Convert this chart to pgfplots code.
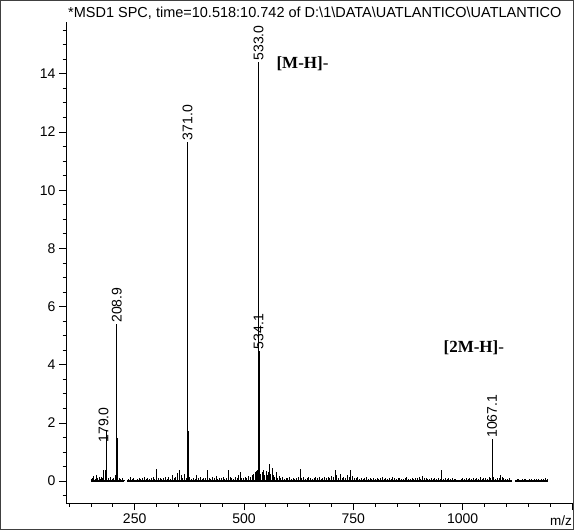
\documentclass[border=0pt]{standalone}
\usepackage{fontspec}
\setmainfont{Liberation Sans}
\newfontfamily\tnr{Liberation Serif}
\usepackage{pgfplots}
\pgfplotsset{compat=1.18}
\usepackage{pgfplotstable}

% m/z  abundance
\pgfplotstableread{
mz int
150 0.06
153 0.12
156 0.18
159 0.08
162 0.2
165 0.1
168 0.16
171 0.07
174 0.14
177 0.1
179 0.4
182 0.3
184 0.38
186 1.75
190 0.1
194 0.15
198 0.08
202 0.12
205 0.2
208.9 5.39
210.5 1.48
214 0.1
218 0.06
222 0.12
226 0.05
236 0.08
240 0.15
244 0.06
248 0.1
252 0.05
256 0.09
260 0.12
264 0.07
268 0.1
272 0.15
276 0.08
280 0.12
284 0.06
288 0.1
292 0.14
296 0.08
300 0.43
304 0.1
308 0.12
312 0.06
316 0.1
320 0.16
324 0.08
328 0.13
332 0.07
336 0.2
340 0.1
344 0.15
348 0.28
352 0.38
356 0.2
360 0.12
364 0.25
368 0.1
371 11.66
372.5 1.73
376 0.15
380 0.08
384 0.12
388 0.06
392 0.2
396 0.1
400 0.14
404 0.08
408 0.12
412 0.1
416 0.37
420 0.12
424 0.08
428 0.15
432 0.1
436 0.18
440 0.06
444 0.12
448 0.1
452 0.16
456 0.08
460 0.12
464 0.37
468 0.14
472 0.1
476 0.08
480 0.15
484 0.1
488 0.2
491 0.33
494 0.12
498 0.1
502 0.15
506 0.12
510 0.18
514 0.15
518 0.2
522 0.25
526 0.3
529 0.35
531 0.4
533 14.4
534.1 4.48
536 0.35
538 0.25
541 0.3
544 0.4
547 0.2
550 0.35
553 0.22
556 0.3
558 0.6
561 0.25
564 0.45
567 0.2
570 0.15
573 0.3
576 0.12
580 0.18
584 0.1
588 0.14
592 0.08
596 0.12
600 0.1
604 0.15
608 0.08
612 0.12
616 0.06
620 0.1
624 0.15
628 0.43
632 0.1
636 0.14
640 0.08
644 0.12
648 0.15
652 0.1
656 0.08
660 0.12
664 0.15
668 0.1
672 0.14
676 0.08
680 0.12
684 0.16
688 0.1
692 0.14
696 0.12
700 0.18
704 0.15
708 0.37
712 0.2
716 0.12
720 0.25
724 0.1
728 0.15
732 0.12
736 0.2
740 0.14
744 0.4
748 0.18
752 0.12
756 0.1
760 0.15
764 0.08
768 0.12
772 0.06
776 0.1
780 0.14
784 0.08
788 0.1
792 0.06
796 0.12
800 0.08
804 0.1
808 0.06
812 0.12
816 0.14
820 0.08
824 0.1
828 0.06
832 0.12
836 0.08
840 0.15
844 0.1
848 0.06
852 0.1
856 0.12
860 0.08
864 0.06
868 0.1
872 0.14
876 0.08
880 0.06
884 0.1
888 0.08
892 0.12
896 0.1
900 0.15
904 0.08
908 0.18
912 0.1
916 0.12
920 0.06
924 0.08
928 0.1
932 0.06
936 0.12
940 0.08
944 0.1
948 0.06
951 0.37
955 0.08
960 0.1
964 0.06
968 0.12
972 0.08
976 0.1
980 0.06
984 0.08
996 0.06
1000 0.1
1004 0.08
1008 0.12
1012 0.06
1016 0.1
1020 0.08
1024 0.12
1028 0.06
1032 0.1
1036 0.08
1040 0.14
1044 0.06
1048 0.1
1052 0.12
1056 0.08
1060 0.15
1064 0.1
1067.1 1.44
1068.2 0.7
1071 0.15
1075 0.08
1079 0.1
1083 0.12
1087 0.2
1090 0.16
1094 0.1
1098 0.08
1102 0.06
1106 0.1
1110 0.05
1124 0.06
1128 0.08
1132 0.05
1136 0.07
1140 0.06
1144 0.08
1148 0.05
1152 0.06
1156 0.08
1160 0.05
1164 0.07
1168 0.06
1172 0.08
1176 0.05
1180 0.06
1184 0.08
1188 0.1
1194 0.06
}\spectrum

\tikzset{
  peaklab/.style={rotate=90, anchor=west, inner sep=1.5bp,
    font=\fontsize{14bp}{16bp}\selectfont},
  ionlab/.style={anchor=west, inner sep=0pt,
    font=\fontsize{17bp}{19bp}\selectfont\tnr},
}

\begin{document}
\begin{tikzpicture}
\useasboundingbox (0,0) rectangle (574bp,530bp);
\draw[line width=0.8bp, black!75] (0.4bp,0.4bp) rectangle (573.6bp,529.6bp);
\node[anchor=base west, inner sep=0pt, font=\fontsize{14.5bp}{16bp}\selectfont]
  at (68bp,512bp) {*MSD1 SPC, time=10.518:10.742 of D:\textbackslash 1\textbackslash DATA\textbackslash UATLANTICO\textbackslash UATLANTICO};
\node[anchor=east, inner sep=0pt, font=\fontsize{13.5bp}{15bp}\selectfont]
  at (572bp,9bp) {m/z};

\begin{axis}[
  at={(66bp,27bp)}, anchor=south west,
  scale only axis, width=506bp, height=481bp,
  xmin=93, xmax=1250, ymin=-0.75, ymax=15.78,
  axis x line=bottom, axis y line=left,
  axis line style={-, line width=0.8bp},
  tick align=outside,
  major tick length=7bp, minor tick length=3.5bp,
  every tick/.style={black, line width=0.8bp},
  xtick={250,500,750,1000,1250},
  xticklabels={250,500,750,1000,{}},
  minor xtick={100,150,...,1250},
  ytick={0,2,...,14},
  minor ytick={-0.5,0,...,15.5},
  ticklabel style={font=\fontsize{14bp}{16bp}\selectfont},
  /pgf/number format/assume math mode=true,
  clip=false,
]
  % baseline
  \addplot[black, line width=1.4bp] coordinates {(150,0) (226,0)};
  \addplot[black, line width=1.4bp] coordinates {(233,0) (1112,0)};
  \addplot[black, line width=1.4bp] coordinates {(1120,0) (1195,0)};
  % peaks
  \addplot[ycomb, black, line width=0.6bp, mark=none] table[x=mz, y=int] {\spectrum};

  \node[peaklab] at (axis cs:179,1.27) {179.0};
  \node[peaklab] at (axis cs:208.9,5.39) {208.9};
  \node[peaklab] at (axis cs:371,11.66) {371.0};
  \node[peaklab] at (axis cs:533,14.4) {533.0};
  \node[peaklab] at (axis cs:533,4.48) {534.1};
  \node[peaklab] at (axis cs:1067.1,1.44) {1067.1};

  \node[ionlab] at (axis cs:574,14.33) {\bfseries [M-H]\mdseries-};
  \node[ionlab] at (axis cs:956,4.57) {\bfseries [2M-H]\mdseries-};
\end{axis}
\end{tikzpicture}
\end{document}
